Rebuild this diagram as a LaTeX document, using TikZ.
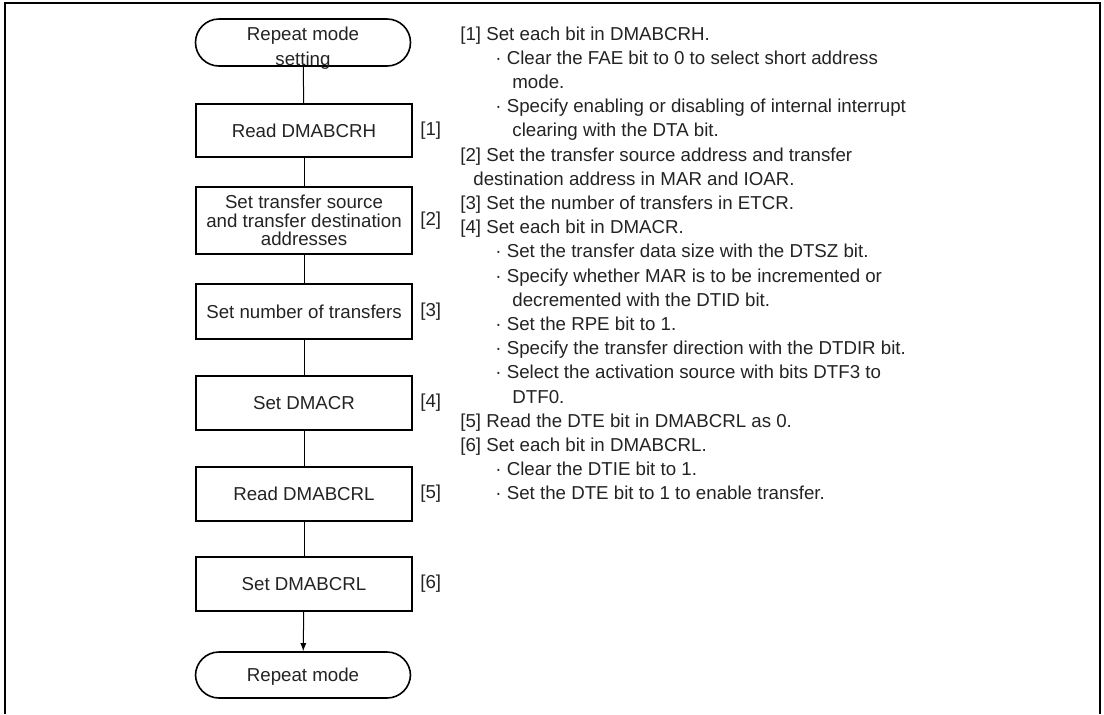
\documentclass[tikz,border=0pt]{standalone}
\usepackage{fontspec}
\setmainfont{Liberation Sans}
\usepackage{tikz}
\usetikzlibrary{arrows.meta, positioning}
\definecolor{inkgray}{RGB}{35, 35, 35}
\newcommand{\noteitem}{\hspace*{17.5pt}·\ }
\newcommand{\notecont}{\hspace*{26pt}}

\begin{document}
\begin{tikzpicture}[x=0.5pt, y=-0.5pt,
    font=\fontsize{9.35}{12.1}\selectfont, text=inkgray,
    procbox/.style={draw=black, line width=1pt, minimum width=108pt, inner sep=2pt,
                    align=center, font=\fontsize{9.35}{9.3}\selectfont},
    termbox/.style={draw=black, line width=0.8pt, rounded corners=11.75pt,
                    minimum width=107.5pt, minimum height=23.5pt, inner ysep=0pt,
                    text depth=0pt, align=center,
                    font=\fontsize{9.35}{12.5}\selectfont},
    steplabel/.style={anchor=west, inner sep=0pt},
    flowline/.style={line width=0.5pt}]

    \useasboundingbox (0,0) rectangle (1104,714);

    % outer frame, open at the bottom
    \draw[line width=1.2pt] (5,714) -- (5,3) -- (1100,3) -- (1100,714);

    % flow chart
    \node[termbox, text height=22.7pt] (start) at (303,42.5) {Repeat mode\\setting};
    \node[procbox, minimum height=26.5pt] (b1) at (304,130.5) {Read DMABCRH};
    \node[procbox, minimum height=33.5pt] (b2) at (304,220.5) {Set transfer source\\and transfer destination\\addresses};
    \node[procbox, minimum height=27.5pt] (b3) at (304,311.5) {Set number of transfers};
    \node[procbox, minimum height=27pt] (b4) at (304,403) {Set DMACR};
    \node[procbox, minimum height=27pt] (b5) at (304,494) {Read DMABCRL};
    \node[procbox, minimum height=27pt] (b6) at (304,584) {Set DMABCRL};
    \node[termbox, minimum height=23pt] (finish) at (303,675) {Repeat mode};

    % step numbers
    \node[steplabel] (l1) at (420,130.5) {[1]};
    \node[steplabel] (l2) at (420,220.5) {[2]};
    \node[steplabel] (l3) at (420,311.5) {[3]};
    \node[steplabel] (l4) at (420,403) {[4]};
    \node[steplabel] (l5) at (420,494) {[5]};
    \node[steplabel] (l6) at (420,584) {[6]};

    % connectors
    \draw[flowline] (start) -- (b1);
    \draw[flowline] (b1) -- (b2);
    \draw[flowline] (b2) -- (b3);
    \draw[flowline] (b3) -- (b4);
    \draw[flowline] (b4) -- (b5);
    \draw[flowline] (b5) -- (b6);
    \draw[flowline, -{Latex[length=4pt, width=3pt]}] (b6) -- (finish);

    % notes
    \node[anchor=base west, inner sep=0pt] (notes) at (460,40) {%
        \begin{tabular}[t]{@{}l@{}}
            {[1]} Set each bit in DMABCRH.\\
            \noteitem Clear the FAE bit to 0 to select short address\\
            \notecont mode.\\
            \noteitem Specify enabling or disabling of internal interrupt\\
            \notecont clearing with the DTA bit.\\
            {[2]} Set the transfer source address and transfer\\
            \hspace*{6.5pt}destination address in MAR and IOAR.\\
            {[3]} Set the number of transfers in ETCR.\\
            {[4]} Set each bit in DMACR.\\
            \noteitem Set the transfer data size with the DTSZ bit.\\
            \noteitem Specify whether MAR is to be incremented or\\
            \notecont decremented with the DTID bit.\\
            \noteitem Set the RPE bit to 1.\\
            \noteitem Specify the transfer direction with the DTDIR bit.\\
            \noteitem Select the activation source with bits DTF3 to\\
            \notecont DTF0.\\
            {[5]} Read the DTE bit in DMABCRL as 0.\\
            {[6]} Set each bit in DMABCRL.\\
            \noteitem Clear the DTIE bit to 1.\\
            \noteitem Set the DTE bit to 1 to enable transfer.
        \end{tabular}};
\end{tikzpicture}
\end{document}
